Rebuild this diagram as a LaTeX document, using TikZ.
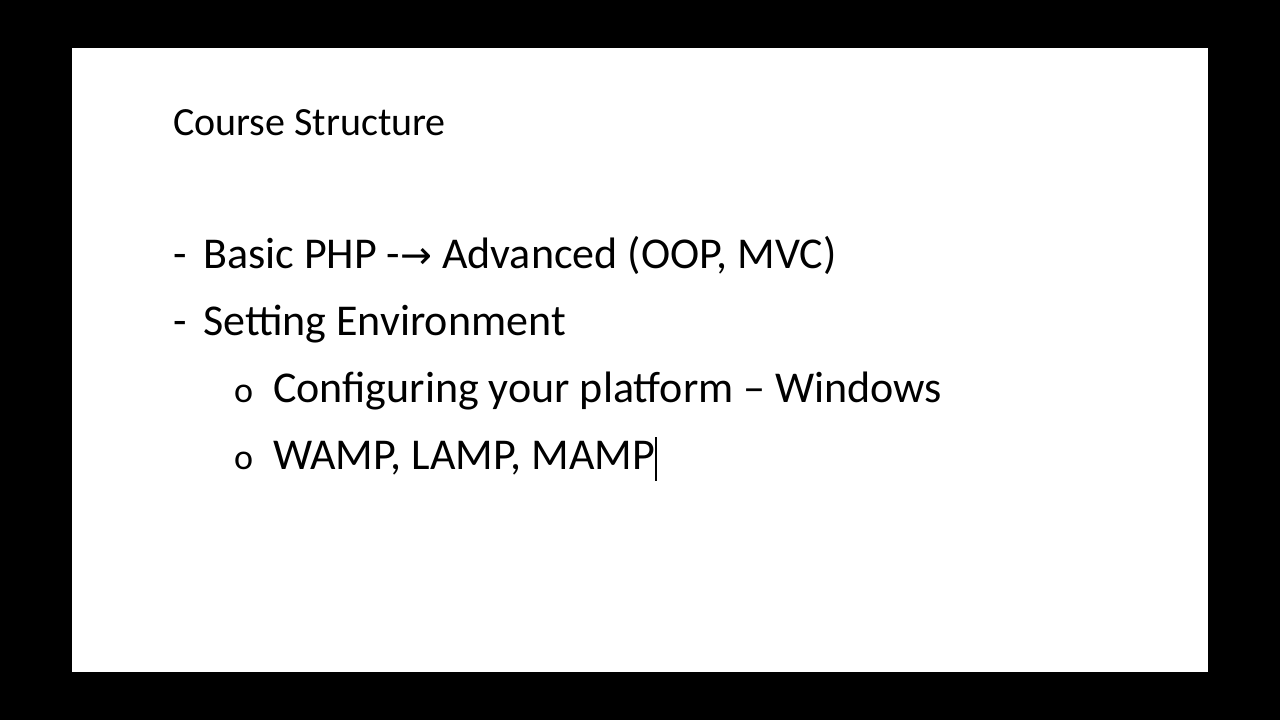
\documentclass[tikz,border=0pt]{standalone}
\usepackage{fontspec}
\setmainfont{Carlito}
\newfontfamily\symfont{DejaVu Sans}
\begin{document}
\begin{tikzpicture}[x=1pt,y=-1pt,
                title/.style={anchor=base west,inner sep=0pt,font=\fontsize{40}{48}\selectfont},
                item/.style={anchor=base west,inner sep=0pt,font=\fontsize{44}{52}\selectfont},
                bullet/.style={anchor=base west,inner sep=0pt,font=\fontsize{36}{40}\selectfont}]
                \fill[black](0,0) rectangle (1280,720);
                \fill[white](72,48) rectangle (1208,672);
                \useasboundingbox (0,0) rectangle (1280,720);
                \node[title](head) at (173,135){Course Structure};
                \node[item](d1) at (173,268){-};
                \node[item](t1) at (203,268){Basic PHP -{\symfont\fontsize{38}{40}\selectfont→} Advanced (OOP, MVC)};
                \node[item](d2) at (173,335){-};
                \node[item](t2) at (203,335){Setting Environment};
                \node[bullet](b3) at (234,402){o};
                \node[item](t3) at (273,402){Configuring your platform – Windows};
                \node[bullet](b4) at (234,469){o};
                \node[item](t4) at (273,469){WAMP, LAMP, MAMP};
                \draw[line width=1.5pt](t4.base east) ++(1,-32) coordinate(c1) -- ++(0,44) coordinate(c2);
            \end{tikzpicture}
\end{document}
